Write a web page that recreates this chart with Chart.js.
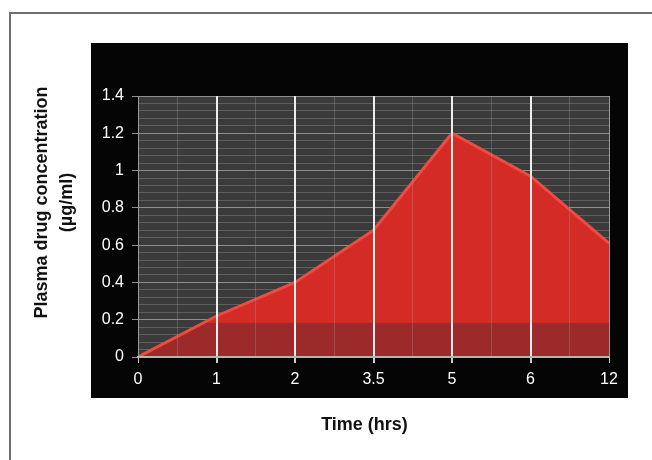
<!DOCTYPE html>
<html>
<head>
<meta charset="utf-8">
<title>Plasma drug concentration over time</title>
<script src="https://cdn.jsdelivr.net/npm/chart.js@4/dist/chart.umd.min.js"></script>
<style>
  html, body { margin: 0; padding: 0; background: #ffffff; }
  canvas { display: block; }
</style>
</head>
<body>
<canvas id="chart" width="652" height="460"></canvas>
<script>
// Sampling times (hours) shown as evenly spaced categories
const timeLabels = ['0', '1', '2', '3.5', '5', '6', '12'];
// Plasma drug concentration (µg/ml) at each sampling time
const concentration = [0, 0.22, 0.40, 0.68, 1.20, 0.97, 0.61];
// Y axis range and labelled tick step
const yMin = 0;
const yMax = 1.4;
const yLabelStep = 0.2;

// Styling constants
const FONT = '"Liberation Sans", Arial, sans-serif';
const RED = '#d42b27';
const RED_DARK = '#9d2a2a';
const RED_EDGE = '#ef4b40';
const BAND_TOP = 0.18;

const points = timeLabels.map((t, i) => ({ x: i, y: concentration[i] }));

function isMajorY(v) {
  const r = Math.round(v * 100);
  return r % Math.round(yLabelStep * 100) === 0;
}

const framePlugin = {
  id: 'frame',
  beforeDraw(chart) {
    const { ctx, chartArea: a } = chart;
    ctx.save();
    ctx.fillStyle = '#ffffff';
    ctx.fillRect(0, 0, chart.width, chart.height);
    // outer frame (top and left edges)
    ctx.strokeStyle = '#6f6f6f';
    ctx.lineWidth = 2;
    ctx.beginPath();
    ctx.moveTo(10, chart.height);
    ctx.lineTo(10, 13);
    ctx.lineTo(chart.width, 13);
    ctx.stroke();
    // black panel behind the plot
    ctx.fillStyle = '#050505';
    ctx.fillRect(a.left - 47, a.top - 53, (a.right - a.left) + 47 + 19, (a.bottom - a.top) + 53 + 41);
    // dark grey plotting field
    ctx.fillStyle = '#3b3b3b';
    ctx.fillRect(a.left, a.top, a.right - a.left, a.bottom - a.top);
    ctx.restore();
  },
  afterDraw(chart) {
    const { ctx, chartArea: a } = chart;
    ctx.save();
    ctx.fillStyle = '#111111';
    ctx.font = 'bold 18px ' + FONT;
    ctx.textAlign = 'center';
    ctx.textBaseline = 'middle';
    ctx.fillText('Time (hrs)', (a.left + a.right) / 2 - 9, 425);
    const cy = (a.top + a.bottom) / 2 - 24;
    ctx.translate(0, cy);
    ctx.rotate(-Math.PI / 2);
    ctx.fillText('Plasma drug concentration', 0, 42);
    ctx.fillText('(µg/ml)', 0, 67);
    ctx.restore();
  }
};

new Chart(document.getElementById('chart'), {
  type: 'line',
  data: {
    datasets: [{
      data: points,
      borderColor: RED_EDGE,
      borderWidth: 3,
      pointRadius: 0,
      tension: 0,
      fill: 'origin',
      backgroundColor(c) {
        const chart = c.chart;
        const a = chart.chartArea;
        if (!a) return RED;
        const yb = chart.scales.y.getPixelForValue(BAND_TOP);
        const s = Math.min(1, Math.max(0, (a.bottom - yb) / (a.bottom - a.top)));
        const g = chart.ctx.createLinearGradient(0, a.bottom, 0, a.top);
        g.addColorStop(0, RED_DARK);
        g.addColorStop(s, RED_DARK);
        g.addColorStop(s, RED);
        g.addColorStop(1, RED);
        return g;
      }
    }]
  },
  options: {
    responsive: false,
    animation: false,
    devicePixelRatio: 1,
    layout: { padding: { top: 96, right: 43, left: 0, bottom: 0 } },
    plugins: { legend: { display: false }, tooltip: { enabled: false } },
    scales: {
      x: {
        type: 'linear',
        min: 0,
        max: timeLabels.length - 1,
        afterFit(scale) { scale.height = 103; },
        border: { color: '#b4b4b4', width: 2, z: 1 },
        grid: {
          z: 1,
          color(c) {
            const v = c.tick.value;
            if (v === 0 || v === timeLabels.length - 1) return '#9a9a9a';
            return Number.isInteger(v) ? '#eeeeee' : 'rgba(150,150,150,0.35)';
          },
          lineWidth(c) {
            const v = c.tick.value;
            return Number.isInteger(v) && v !== 0 && v !== timeLabels.length - 1 ? 2 : 1;
          },
          tickColor(c) { return Number.isInteger(c.tick.value) ? '#cccccc' : 'rgba(0,0,0,0)'; },
          tickLength: 6
        },
        ticks: {
          stepSize: 0.5,
          autoSkip: false,
          maxRotation: 0,
          padding: 7,
          color: '#ffffff',
          font: { family: FONT, size: 16 },
          callback(v) { return Number.isInteger(v) ? timeLabels[v] : ''; }
        }
      },
      y: {
        min: yMin,
        max: yMax,
        afterFit(scale) { scale.width = 138; },
        border: { color: '#9a9a9a', width: 1 },
        grid: {
          color(c) { return isMajorY(c.tick.value) ? '#8e8e8e' : '#5e5e5e'; },
          tickColor(c) { return isMajorY(c.tick.value) ? '#8e8e8e' : 'rgba(0,0,0,0)'; },
          tickLength: 6
        },
        ticks: {
          stepSize: 0.04,
          autoSkip: false,
          padding: 8,
          color: '#ffffff',
          font: { family: FONT, size: 16 },
          callback(v) { return isMajorY(v) ? String(Math.round(v * 10) / 10) : ''; }
        }
      }
    }
  },
  plugins: [framePlugin]
});
</script>
</body>
</html>
